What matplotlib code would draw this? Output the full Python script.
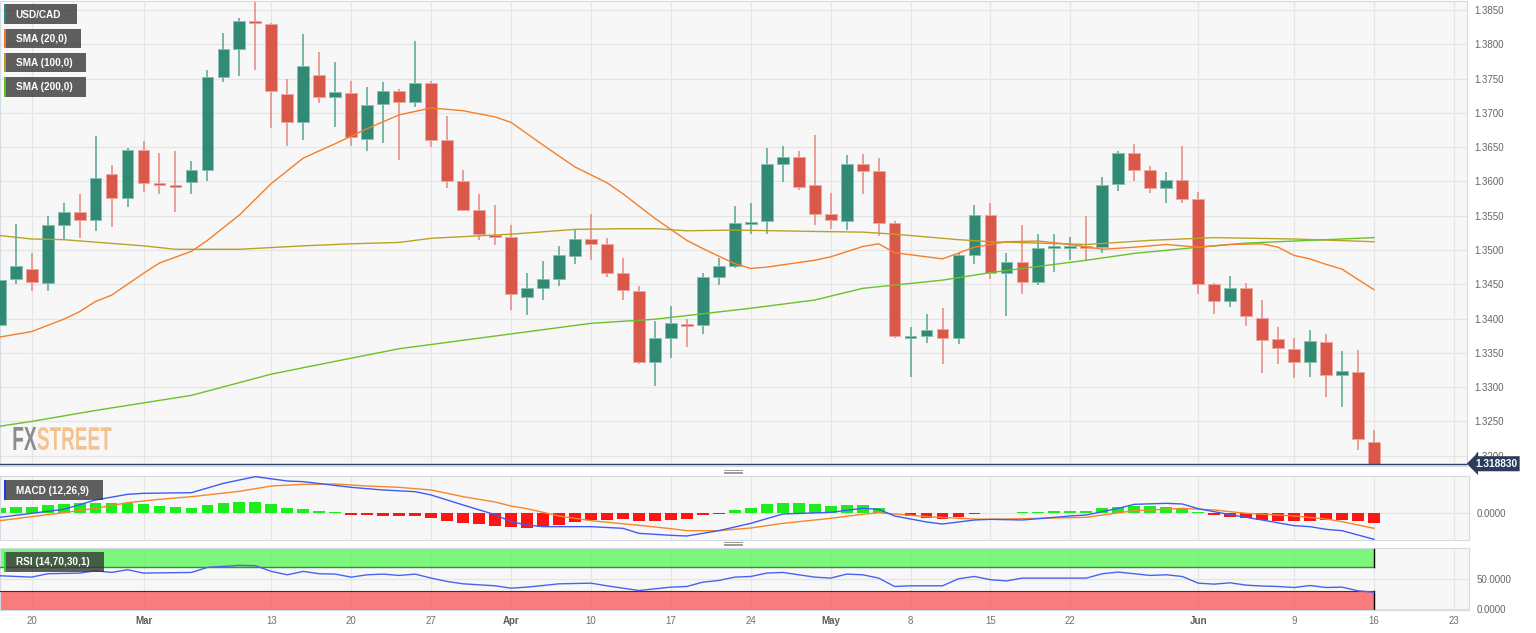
import numpy as np
import matplotlib
matplotlib.use("Agg")
import matplotlib.pyplot as plt
from matplotlib.patches import Rectangle, PathPatch
from matplotlib.lines import Line2D
from matplotlib.textpath import TextPath
from matplotlib.font_manager import FontProperties
from matplotlib.transforms import Affine2D, blended_transform_factory

plt.rcParams['font.family'] = ['Liberation Sans', 'DejaVu Sans']

# USD/CAD daily candles, 16 Feb - 16 Jun 2023 (weekdays only)
start_date = '2023-02-16'
opens = [1.3391, 1.3457, 1.3472, 1.3452, 1.3537, 1.3556, 1.3543, 1.3611, 1.3576, 1.3646,
         1.3597, 1.3594, 1.3599, 1.3616, 1.3752, 1.3793, 1.3834, 1.3829, 1.3727, 1.3686,
         1.3755, 1.3723, 1.3729, 1.3662, 1.3713, 1.3732, 1.3716, 1.3743, 1.3661, 1.3600,
         1.3558, 1.3522, 1.3519, 1.3432, 1.3445, 1.3458, 1.3491, 1.3516, 1.3508, 1.3467,
         1.3440, 1.3337, 1.3371, 1.3392, 1.3390, 1.3460, 1.3476, 1.3538, 1.3542, 1.3626,
         1.3636, 1.3594, 1.3552, 1.3542, 1.3626, 1.3615, 1.3539, 1.3373, 1.3375, 1.3385,
         1.3371, 1.3492, 1.3551, 1.3466, 1.3483, 1.3453, 1.3504, 1.3504, 1.3506, 1.3504,
         1.3596, 1.3641, 1.3617, 1.3591, 1.3602, 1.3574, 1.3450, 1.3425, 1.3445, 1.3401,
         1.3370, 1.3355, 1.3337, 1.3366, 1.3317, 1.3322, 1.3220]
highs = [1.3462, 1.3538, 1.3495, 1.3549, 1.3568, 1.3581, 1.3666, 1.3624, 1.3649, 1.3659,
         1.3641, 1.3645, 1.3629, 1.3762, 1.3816, 1.3838, 1.3862, 1.3831, 1.3750, 1.3815,
         1.3788, 1.3774, 1.3747, 1.3738, 1.3745, 1.3734, 1.3805, 1.3746, 1.3695, 1.3616,
         1.3581, 1.3565, 1.3536, 1.3467, 1.3484, 1.3506, 1.3531, 1.3553, 1.3517, 1.3489,
         1.3448, 1.3396, 1.3419, 1.3399, 1.3467, 1.3489, 1.3564, 1.3568, 1.3648, 1.3652,
         1.3645, 1.3668, 1.3583, 1.3638, 1.3640, 1.3634, 1.3542, 1.3388, 1.3406, 1.3415,
         1.3495, 1.3565, 1.3568, 1.3495, 1.3536, 1.3524, 1.3523, 1.3519, 1.3549, 1.3606,
         1.3645, 1.3655, 1.3622, 1.3614, 1.3651, 1.3585, 1.3452, 1.3462, 1.3452, 1.3427,
         1.3388, 1.3371, 1.3384, 1.3378, 1.3352, 1.3354, 1.3238]
lows = [1.3358, 1.3450, 1.3440, 1.3440, 1.3514, 1.3517, 1.3528, 1.3534, 1.3562, 1.3585,
        1.3582, 1.3555, 1.3582, 1.3600, 1.3745, 1.3753, 1.3762, 1.3678, 1.3652, 1.3660,
        1.3714, 1.3679, 1.3652, 1.3644, 1.3656, 1.3631, 1.3708, 1.3650, 1.3591, 1.3557,
        1.3515, 1.3507, 1.3412, 1.3405, 1.3427, 1.3447, 1.3479, 1.3485, 1.3461, 1.3427,
        1.3333, 1.3301, 1.3342, 1.3358, 1.3378, 1.3449, 1.3473, 1.3523, 1.3524, 1.3599,
        1.3588, 1.3536, 1.3530, 1.3529, 1.3582, 1.3520, 1.3371, 1.3315, 1.3364, 1.3334,
        1.3363, 1.3480, 1.3458, 1.3403, 1.3436, 1.3449, 1.3468, 1.3485, 1.3485, 1.3496,
        1.3586, 1.3600, 1.3583, 1.3568, 1.3569, 1.3436, 1.3406, 1.3417, 1.3389, 1.3321,
        1.3334, 1.3313, 1.3315, 1.3285, 1.3271, 1.3209, 1.3186]
closes = [1.3456, 1.3476, 1.3453, 1.3536, 1.3556, 1.3543, 1.3605, 1.3576, 1.3646, 1.3598,
          1.3595, 1.3592, 1.3616, 1.3752, 1.3793, 1.3834, 1.3831, 1.3732, 1.3686, 1.3768,
          1.3723, 1.3730, 1.3665, 1.3712, 1.3732, 1.3716, 1.3743, 1.3661, 1.3601, 1.3558,
          1.3523, 1.3520, 1.3436, 1.3444, 1.3457, 1.3492, 1.3516, 1.3509, 1.3467, 1.3441,
          1.3337, 1.3371, 1.3393, 1.3390, 1.3461, 1.3476, 1.3540, 1.3540, 1.3626, 1.3636,
          1.3592, 1.3552, 1.3543, 1.3625, 1.3615, 1.3540, 1.3374, 1.3374, 1.3384, 1.3372,
          1.3492, 1.3551, 1.3467, 1.3483, 1.3454, 1.3503, 1.3506, 1.3506, 1.3503, 1.3595,
          1.3641, 1.3617, 1.3591, 1.3602, 1.3574, 1.3450, 1.3425, 1.3445, 1.3403, 1.3369,
          1.3357, 1.3337, 1.3367, 1.3318, 1.3323, 1.3224, 1.31883]
last_price = 1.318830

# moving averages at candle positions
sma20_idx = [0, 2, 4, 5, 6, 7, 9, 10, 12, 13, 15, 17, 19, 21, 23, 25, 27, 29, 31, 32, 34, 36,
             38, 39, 41, 43, 44, 46, 47, 48, 51, 52, 54, 55, 56, 59, 61, 63, 65, 67, 69, 71,
             73, 75, 77, 79, 80, 81, 82, 83, 84, 85, 86]
sma20 = [1.3373, 1.3381, 1.3399, 1.3410, 1.3425, 1.3434, 1.3466, 1.3481, 1.3498, 1.3514,
         1.3551, 1.3597, 1.3634, 1.3655, 1.3677, 1.3697, 1.3707, 1.3703, 1.3694, 1.3686,
         1.3653, 1.3621, 1.3598, 1.3582, 1.3546, 1.3514, 1.3502, 1.3480, 1.3473, 1.3475,
         1.3485, 1.3490, 1.3505, 1.3509, 1.3496, 1.3487, 1.3504, 1.3512, 1.3513, 1.3508,
         1.3501, 1.3504, 1.3508, 1.3504, 1.3508, 1.3509, 1.3504, 1.3492, 1.3487, 1.3479,
         1.3472, 1.3457, 1.3442]
sma100_idx = [0, 2, 4, 9, 11, 15, 19, 22, 25, 27, 32, 36, 39, 41, 43, 46, 51, 54, 56, 60,
              62, 68, 72, 76, 81, 86]
sma100 = [1.3521, 1.3516, 1.3515, 1.3506, 1.3501, 1.3501, 1.3506, 1.3509, 1.3511, 1.3517,
          1.3523, 1.3530, 1.3531, 1.3531, 1.3528, 1.3529, 1.3527, 1.3526, 1.3523, 1.3515,
          1.3512, 1.3508, 1.3514, 1.3518, 1.3516, 1.3512]
sma200_idx = [0, 2, 6, 12, 17, 20, 25, 37, 41, 47, 51, 54, 59, 62, 68, 71, 75, 78, 86]
sma200 = [1.3243, 1.3250, 1.3266, 1.3288, 1.3319, 1.3333, 1.3356, 1.3393, 1.3399, 1.3415,
          1.3427, 1.3444, 1.3456, 1.3467, 1.3485, 1.3495, 1.3504, 1.3510, 1.3518]

# MACD (12,26,9)
macd_idx = [0, 2, 4, 6, 8, 9, 12, 14, 16, 18, 19, 22, 24, 26, 27, 29, 31, 32, 33, 34, 37,
            39, 40, 42, 43, 45, 47, 48, 49, 52, 54, 55, 56, 58, 59, 61, 62, 64, 67, 68, 70,
            71, 73, 74, 75, 77, 79, 81, 82, 83, 84, 86]
macd = [-0.0007, -0.0001, 0.0005, 0.0019, 0.00275, 0.0029, 0.0030, 0.0044, 0.0054, 0.00475,
        0.00465, 0.0038, 0.0034, 0.00315, 0.00265, 0.00115, -0.0003, -0.00135, -0.00185,
        -0.0021, -0.0021, -0.00235, -0.0031, -0.0034, -0.0035, -0.0027, -0.0016, -0.0009,
        -0.0002, 0.00005, 0.00065, 0.0005, -0.0005, -0.0014, -0.0017, -0.0011, -0.0010,
        -0.0011, -0.0005, -0.00035, 0.00065, 0.00125, 0.0014, 0.0013, 0.0006, -0.0003,
        -0.0011, -0.00195, -0.0021, -0.0025, -0.0027, -0.0040]
signal_idx = [0, 2, 4, 6, 8, 10, 12, 15, 17, 19, 21, 23, 25, 27, 29, 31, 32, 33, 35, 37,
              40, 42, 43, 45, 47, 49, 52, 54, 55, 56, 58, 61, 62, 64, 68, 69, 71, 73, 74,
              76, 78, 81, 83, 84, 86]
signal = [-0.0012, -0.0006, 0.0, 0.00065, 0.0015, 0.0020, 0.0024, 0.0032, 0.0040, 0.00425,
          0.0043, 0.0040, 0.0038, 0.0034, 0.0024, 0.0016, 0.0010, 0.0006, -0.0005, -0.0012,
          -0.0019, -0.0024, -0.0027, -0.0027, -0.0023, -0.0016, -0.00085, -0.00025, 0.0,
          -0.0002, -0.0006, -0.00095, -0.0010, -0.0009, -0.0007, -0.00035, 0.0003, 0.0005,
          0.00065, 0.0004, -0.0001, -0.0005, -0.00095, -0.00135, -0.00235]
hist = [0.00065, 0.0008, 0.0009, 0.00115, 0.0013, 0.0014, 0.0015, 0.0014, 0.0015, 0.0013,
        0.00105, 0.0009, 0.00075, 0.00115, 0.0014, 0.00165, 0.00165, 0.0013, 0.00065, 0.00055,
        0.00025, 0.00005, -0.00035, -0.0004, -0.00045, -0.0005, -0.0005, -0.00075, -0.0012, -0.0015,
        -0.00175, -0.00195, -0.0021, -0.00225, -0.0021, -0.00185, -0.00145, -0.0011, -0.0011, -0.00095,
        -0.00125, -0.00125, -0.0011, -0.0009, -0.0004, -0.00015, 0.0004, 0.00075, 0.00125, 0.0015,
        0.0015, 0.00125, 0.00105, 0.00115, 0.00115, 0.00075, -0.0001, -0.0005, -0.00085, -0.0010,
        -0.0006, -0.00015, -0.0001, -0.0001, 0.0001, 0.00015, 0.0002, 0.00025, 0.00025, 0.00065,
        0.0009, 0.00105, 0.0010, 0.0009, 0.00065, 0.00015, -0.00035, -0.0006, -0.00075, -0.0011,
        -0.0012, -0.00125, -0.0012, -0.00115, -0.0011, -0.00125, -0.0015]

# RSI (14,70,30,1)
rsi_idx = [0, 2, 3, 5, 6, 7, 8, 9, 12, 13, 15, 16, 17, 18, 19, 20, 21, 22, 23, 24, 25, 26,
           27, 28, 29, 31, 32, 33, 35, 37, 38, 40, 42, 43, 44, 45, 46, 47, 48, 49, 50, 51,
           52, 53, 54, 55, 56, 57, 59, 60, 61, 62, 63, 64, 66, 68, 69, 70, 71, 72, 73, 74,
           75, 76, 77, 78, 79, 80, 81, 82, 83, 84, 85, 86]
rsi = [55.6, 53.3, 58.9, 60.0, 63.9, 61.1, 65.6, 60.0, 61.1, 69.4, 72.8, 72.2, 62.8, 57.2,
       62.8, 58.9, 58.3, 53.3, 57.2, 58.3, 56.1, 58.3, 51.7, 46.1, 42.2, 38.9, 35.0, 36.7,
       42.2, 43.3, 38.9, 31.1, 36.7, 37.8, 45.0, 47.8, 53.3, 54.4, 60.0, 61.1, 57.2, 53.3,
       51.7, 58.3, 57.2, 51.7, 37.8, 38.9, 38.9, 50.6, 54.4, 49.0, 47.0, 51.7, 51.7, 51.7,
       58.9, 61.7, 58.9, 56.1, 57.2, 54.4, 43.3, 41.7, 43.9, 40.0, 38.5, 37.8, 36.1, 39.4,
       36.1, 36.7, 30.6, 28.3]

tick_dates = ['2023-02-20', '2023-03-01', '2023-03-13', '2023-03-20', '2023-03-27',
              '2023-04-03', '2023-04-10', '2023-04-17', '2023-04-24', '2023-05-01',
              '2023-05-08', '2023-05-15', '2023-05-22', '2023-06-01', '2023-06-09',
              '2023-06-16', '2023-06-23']
tick_labels = ['20', 'Mar', '13', '20', '27', 'Apr', '10', '17', '24', 'May', '8', '15',
               '22', 'Jun', '9', '16', '23']

W, H = 1536, 633
STEP, OFF = 15.98, -0.3   # pixels per candle, pixel of candle 0

GREEN, GREEN_WICK, GREEN_EDGE = '#318a73', '#5aa391', '#86bfb0'
RED, RED_WICK, RED_EDGE = '#d9584a', '#e6897e', '#eea89f'
PANEL_BG, GRID, SPINE = '#f7f7f7', '#e5e5e5', '#d4dae3'


def px_axes(fig, left, top, right, bottom):
    ax = fig.add_axes([left / W, 1 - bottom / H, (right - left) / W, (bottom - top) / H])
    ax.set_facecolor(PANEL_BG)
    for s in ax.spines.values():
        s.set_color(SPINE)
        s.set_linewidth(0.8)
    ax.set_xlim((left - OFF) / STEP, (right - OFF) / STEP)
    ax.set_axisbelow(True)
    return ax


def tag(fig, x0, y0, w, h, text, strip):
    fig.add_artist(Rectangle((x0 / W, 1 - (y0 + h) / H), w / W, h / H, transform=fig.transFigure,
                             fc='#333333', alpha=0.78, ec='none', zorder=5))
    fig.add_artist(Rectangle((x0 / W, 1 - (y0 + h) / H), 2.2 / W, h / H, transform=fig.transFigure,
                             fc=strip, ec='none', zorder=6))
    fig.text((x0 + 11.5) / W, 1 - (y0 + h / 2 + 0.5) / H, text, color='white', fontsize=7.2,
             fontweight='bold', va='center', ha='left', zorder=7)


def stamp(fig, text, x0, x1, y_top, y_base, color, prop):
    tp = TextPath((0, 0), text, size=100, prop=prop)
    bb = tp.get_extents()
    tr = (Affine2D().translate(-bb.x0, -bb.y0)
          .scale((x1 - x0) / bb.width / W, (y_base - y_top) / bb.height / H)
          .translate(x0 / W, 1 - y_base / H) + fig.transFigure)
    fig.add_artist(PathPatch(tp, transform=tr, fc=color, ec='none', zorder=1))


o = np.array(opens)
h = np.array(highs)
l = np.array(lows)
c = np.array(closes)
x = np.arange(len(o))
tick_pos = np.busday_count(start_date, tick_dates)

fig = plt.figure(figsize=(W / 100, H / 100), dpi=100, facecolor='white')

# ---- price panel
ax = px_axes(fig, 0, 1, 1467, 466)
ax.set_ylim(1.3185, 1.3863)
ax.set_xticks(tick_pos)
ax.set_yticks(np.arange(1.32, 1.38501, 0.005))
ax.yaxis.tick_right()
ax.yaxis.set_major_formatter(plt.FuncFormatter(lambda v, p: f'{v:.4f}'))
ax.tick_params(axis='y', length=0, pad=5.5, labelsize=7, labelcolor='#666666')
ax.tick_params(axis='x', length=0, labelbottom=False)
ax.grid(True, color=GRID, lw=0.9)

up = c >= o
body_lo = np.minimum(o, c)
body_h = np.abs(c - o)
thin = body_h < 0.0003
body_lo = np.where(thin, (o + c) / 2 - 0.00015, body_lo)
body_h = np.where(thin, 0.0003, body_h)
ax.vlines(x[up], l[up], h[up], color=GREEN_WICK, lw=1.1, zorder=2)
ax.vlines(x[~up], l[~up], h[~up], color=RED_WICK, lw=1.1, zorder=2)
ax.bar(x[up], body_h[up], bottom=body_lo[up], width=0.74, color=GREEN, edgecolor=GREEN_EDGE,
       lw=0.6, zorder=3)
ax.bar(x[~up], body_h[~up], bottom=body_lo[~up], width=0.74, color=RED, edgecolor=RED_EDGE,
       lw=0.6, zorder=3)

ax.plot(sma100_idx, sma100, color='#b9a326', lw=1.0, zorder=4)
ax.plot(sma200_idx, sma200, color='#6cc12a', lw=1.0, zorder=4)
ax.plot(sma20_idx, sma20, color='#f47f2a', lw=1.0, zorder=4)

ax.axhline(last_price, color='#2e4163', lw=1.0, zorder=5)
trans = blended_transform_factory(fig.transFigure, ax.transData)
ax.text(1475 / W, last_price, f'{last_price:.6f}', transform=trans, ha='left', va='center',
        color='white', fontsize=7.3, fontweight='bold', zorder=6,
        bbox=dict(boxstyle='larrow,pad=0.25', fc='#2b3d5c', ec='none'))

# ---- MACD panel
ax2 = px_axes(fig, 0, 476, 1469, 540)
ax2.set_ylim(-0.0041, 0.0055)
ax2.set_xticks(tick_pos)
ax2.set_yticks([0])
ax2.set_yticklabels(['0.0000'])
ax2.yaxis.tick_right()
ax2.tick_params(axis='y', length=0, pad=5.5, labelsize=7, labelcolor='#666666')
ax2.tick_params(axis='x', length=0, labelbottom=False)
ax2.grid(True, color=GRID, lw=0.9)
hv = np.array(hist)
ax2.bar(x, hv, width=0.74, color=np.where(hv >= 0, '#1ded1d', '#ff1414'), zorder=2)
ax2.plot(signal_idx, signal, color='#f5862e', lw=1.0, zorder=3)
ax2.plot(macd_idx, macd, color='#3e5cf2', lw=1.0, zorder=4)

# ---- RSI panel
ax3 = px_axes(fig, 0, 548, 1469, 610)
ax3.set_ylim(-1.2, 101.6)
ax3.set_xticks(tick_pos)
ax3.set_xticklabels(tick_labels)
ax3.set_yticks([0, 50])
ax3.set_yticklabels(['0.0000', '50.0000'])
ax3.yaxis.tick_right()
ax3.tick_params(axis='y', length=0, pad=5.5, labelsize=7, labelcolor='#666666')
ax3.tick_params(axis='x', length=0, pad=4.5, labelsize=7, labelcolor='#707070')
for t in ax3.get_xticklabels():
    if t.get_text() in ('Mar', 'Apr', 'May', 'Jun'):
        t.set_fontweight('bold')
        t.set_color('#5c5c5c')
ax3.grid(True, color=GRID, lw=0.9)
x_left = ax3.get_xlim()[0]
last = x[-1]
ax3.add_patch(Rectangle((x_left, 70), last - x_left, 30, fc='#5df75d', alpha=0.8, ec='none', zorder=2))
ax3.add_patch(Rectangle((x_left, -1.2), last - x_left, 31.2, fc='#fa5c5c', alpha=0.8, ec='none', zorder=2))
ax3.plot([x_left, last], [70, 70], color='#3d8c3d', lw=1.0, zorder=3)
ax3.plot([x_left, last], [30, 30], color='#4a2626', lw=0.8, zorder=3)
ax3.plot([last, last], [70, 100], color='black', lw=1.0, zorder=3)
ax3.plot([last, last], [-1.2, 30], color='black', lw=1.0, zorder=3)
ax3.plot(rsi_idx, rsi, color='#4863f0', lw=1.0, zorder=4)

# ---- legend tags, splitters, watermark
tag(fig, 4, 4, 73, 20, 'USD/CAD', '#2a8a74')
tag(fig, 4, 28.7, 77, 19.5, 'SMA (20,0)', '#f07a22')
tag(fig, 4, 52.7, 82, 19.5, 'SMA (100,0)', '#b39c1b')
tag(fig, 4, 77, 82, 19.5, 'SMA (200,0)', '#5dc21e')
tag(fig, 4, 480, 99, 20, 'MACD (12,26,9)', '#2233ee')
tag(fig, 4, 552, 100, 19.5, 'RSI (14,70,30,1)', '#22dd22')

for yy in (469.8, 471.6, 473.4, 541.8, 543.6, 545.4):
    fig.add_artist(Line2D([724 / W, 742 / W], [1 - yy / H] * 2, color='#9a9a9a', lw=0.7))

fp = FontProperties(family=['Liberation Sans Narrow', 'Liberation Sans'], weight='bold')
stamp(fig, 'FX', 13.5, 36.5, 427, 450, '#8c8c8c', fp)
stamp(fig, 'STREET', 37.5, 111.5, 427, 450, '#f3c28f', fp)

fig.savefig('out.png', dpi=100, facecolor='white')
plt.close(fig)
